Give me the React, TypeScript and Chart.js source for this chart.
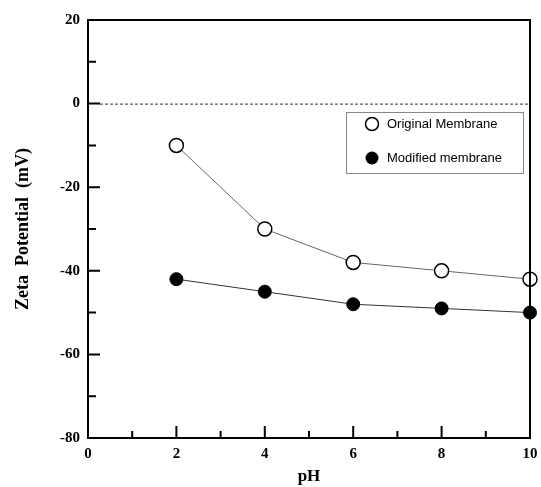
import React, { useEffect, useRef } from 'react';
import { Chart, registerables } from 'chart.js';
Chart.register(...registerables);

const phValues = [2, 4, 6, 8, 10];
const originalZeta = [-10, -30, -38, -40, -42];
const modifiedZeta = [-42, -45, -48, -49, -50];
const seriesNames = ['Original Membrane', 'Modified membrane'];
const xMajorTicks = [0, 2, 4, 6, 8, 10];
const xMinorTicks = [1, 3, 5, 7, 9];
const yMajorTicks = [-80, -60, -40, -20, 0, 20];
const yMinorTicks = [-70, -50, -30, -10, 10];
const xTitle = 'pH';
const yTitle = 'Zeta  Potential  (mV)';

const serif = "'Liberation Serif', 'Times New Roman', serif";
const sans = "'Liberation Sans', Arial, sans-serif";

const framePlugin = {
  id: 'frame',
  afterDraw(chart: any) {
    const { ctx, chartArea } = chart;
    const xs = chart.scales.x;
    const ys = chart.scales.y;
    const { left, right, top, bottom } = chartArea;
    ctx.save();
    // zero dashed line
    const y0 = ys.getPixelForValue(0);
    ctx.strokeStyle = '#333';
    ctx.lineWidth = 1;
    ctx.setLineDash([3, 2]);
    ctx.beginPath();
    ctx.moveTo(left + 12, y0 + 0.5);
    ctx.lineTo(right, y0 + 0.5);
    ctx.stroke();
    ctx.setLineDash([]);
    // frame
    ctx.strokeStyle = '#000';
    ctx.lineWidth = 2;
    ctx.strokeRect(left, top, right - left, bottom - top);
    // ticks
    ctx.lineWidth = 2;
    ctx.beginPath();
    xMajorTicks.forEach((v) => {
      const x = xs.getPixelForValue(v);
      ctx.moveTo(x, bottom);
      ctx.lineTo(x, bottom - 12);
    });
    xMinorTicks.forEach((v) => {
      const x = xs.getPixelForValue(v);
      ctx.moveTo(x, bottom);
      ctx.lineTo(x, bottom - 7);
    });
    yMajorTicks.forEach((v) => {
      const y = ys.getPixelForValue(v);
      ctx.moveTo(left, y);
      ctx.lineTo(left + 12, y);
    });
    yMinorTicks.forEach((v) => {
      const y = ys.getPixelForValue(v);
      ctx.moveTo(left, y);
      ctx.lineTo(left + 8, y);
    });
    ctx.stroke();
    // legend
    const bx = right - 184;
    const by = top + 92;
    const bw = 177;
    const bh = 61;
    ctx.strokeStyle = '#888';
    ctx.lineWidth = 1;
    ctx.strokeRect(bx + 0.5, by + 0.5, bw, bh);
    const rows = [by + 12, by + 46];
    ctx.font = `13px ${sans}`;
    ctx.textBaseline = 'middle';
    ctx.textAlign = 'left';
    seriesNames.forEach((name, i) => {
      const cy = rows[i];
      const cx = bx + 26;
      ctx.beginPath();
      ctx.arc(cx, cy, 6.5, 0, Math.PI * 2);
      if (i === 0) {
        ctx.fillStyle = '#fff';
        ctx.fill();
        ctx.strokeStyle = '#000';
        ctx.lineWidth = 1.5;
        ctx.stroke();
      } else {
        ctx.fillStyle = '#000';
        ctx.fill();
      }
      ctx.fillStyle = '#000';
      ctx.fillText(name, bx + 41, cy);
    });
    ctx.restore();
  },
};

export default function App() {
  const ref = useRef<HTMLCanvasElement>(null);
  useEffect(() => {
    const chart = new Chart(ref.current as HTMLCanvasElement, {
      type: 'line',
      data: {
        datasets: [
          {
            label: seriesNames[0],
            data: phValues.map((x, i) => ({ x, y: originalZeta[i] })),
            borderColor: '#666',
            borderWidth: 1,
            pointRadius: 7,
            pointBorderWidth: 1.5,
            pointBorderColor: '#000',
            pointBackgroundColor: '#fff',
            clip: false as any,
          },
          {
            label: seriesNames[1],
            data: phValues.map((x, i) => ({ x, y: modifiedZeta[i] })),
            borderColor: '#333',
            borderWidth: 1,
            pointRadius: 6.5,
            pointBorderWidth: 1,
            pointBorderColor: '#000',
            pointBackgroundColor: '#000',
            clip: false as any,
          },
        ],
      },
      options: {
        animation: false,
        responsive: false,
        devicePixelRatio: 1,
        layout: { padding: { left: 0, right: 11, top: 20, bottom: 0 } },
        plugins: { legend: { display: false }, tooltip: { enabled: false } },
        scales: {
          x: {
            type: 'linear',
            min: 0,
            max: 10,
            grid: { display: false, drawTicks: false },
            border: { display: false },
            ticks: {
              stepSize: 2,
              padding: 7,
              color: '#000',
              font: { family: serif, size: 15, weight: 'bold' },
            },
            title: {
              display: true,
              text: xTitle,
              color: '#000',
              padding: { top: 0, bottom: 0 },
              font: { family: serif, size: 17, weight: 'bold' },
            },
            afterFit(scale: any) {
              scale.height = 49;
              scale.paddingLeft = 0;
              scale.paddingRight = 0;
            },
          },
          y: {
            type: 'linear',
            min: -80,
            max: 20,
            grid: { display: false, drawTicks: false },
            border: { display: false },
            ticks: {
              stepSize: 20,
              padding: 8,
              color: '#000',
              font: { family: serif, size: 15, weight: 'bold' },
            },
            title: {
              display: true,
              text: yTitle,
              color: '#000',
              padding: { top: 13, bottom: 0 },
              font: { family: serif, size: 18, weight: 'bold' },
            },
            afterFit(scale: any) {
              scale.width = 88;
              scale.paddingTop = 0;
              scale.paddingBottom = 0;
            },
          },
        },
      } as any,
      plugins: [framePlugin],
    });
    return () => chart.destroy();
  }, []);
  return (
    <div style={{ position: 'fixed', left: 0, top: 0, width: 541, height: 487, background: '#fff' }}>
      <canvas ref={ref} width={541} height={487} />
    </div>
  );
}
